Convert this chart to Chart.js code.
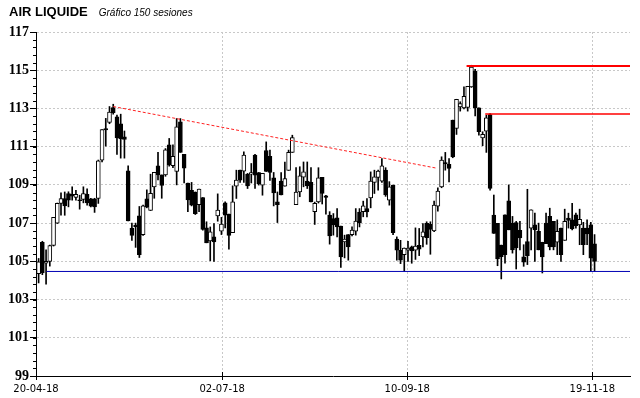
<!DOCTYPE html>
<html>
<head>
<meta charset="utf-8">
<script src="https://cdn.jsdelivr.net/npm/chart.js@4.4.1/dist/chart.umd.min.js"></script>
<style>
  html, body { margin: 0; padding: 0; background: #fff; }
  #wrap { position: relative; width: 640px; height: 398px; }
  #title { position: absolute; left: 9px; top: 3px; font-family: "Liberation Sans", Arial, sans-serif; white-space: nowrap; line-height: 15px; color: #000; }
  #title b { font-size: 13px; }
  #title i { font-size: 10px; margin-left: 11px; }
</style>
</head>
<body>
<div id="wrap">
  <canvas id="chart" width="640" height="398"></canvas>
  <div id="title"><b>AIR LIQUIDE</b><i>Gráfico 150 sesiones</i></div>
</div>
<script>
// 150 sesiones, valores
const opens = [
  104.36, 106.0, 104.9, 105.0, 105.83, 107.0, 108.03, 108.28, 108.55, 108.5,
  108.34, 108.22, 108.24, 108.5, 108.27, 108.27, 108.29, 110.29, 111.95, 112.27,
  113.05, 112.56, 112.2, 111.52, 109.73, 106.74, 106.9, 107.38, 106.4, 108.27,
  107.66, 108.9, 110.0, 109.52, 109.52, 111.09, 110.0, 109.7, 112.3, 110.6,
  109.09, 108.72, 108.63, 107.97, 108.34, 106.75, 106.07, 106.28, 107.38, 106.58,
  108.06, 107.47, 106.5, 108.93, 109.77, 109.72, 109.56, 109.56, 110.56, 109.65,
  108.99, 110.8, 110.5, 109.37, 108.11, 109.2, 108.93, 109.76, 110.7, 107.97,
  108.63, 109.4, 109.2, 109.13, 107.6, 108.11, 109.39, 108.43, 107.42, 107.24,
  107.27, 106.84, 106.02, 106.4, 106.4, 106.58, 107.58, 107.6, 107.76, 108.32,
  109.13, 109.39, 109.2, 109.77, 108.2, 108.99, 106.16, 105.58, 105.35, 105.58,
  105.76, 105.58, 105.84, 106.28, 106.99, 106.93, 106.59, 107.89, 108.9, 110.17,
  110.07, 112.39, 111.95, 113.08, 113.03, 113.05, 114.13, 114.95, 113.03, 111.46,
  111.81, 112.68, 107.42, 106.99, 105.85, 107.43, 108.17, 107.0, 107.03, 106.62,
  105.23, 106.04, 106.74, 106.91, 106.57, 106.0, 107.0, 107.35, 107.09, 106.0,
  106.74, 106.1, 107.26, 107.17, 107.43, 106.91, 106.74, 106.74, 106.91, 105.92
];
const highs = [
  105.15, 106.05, 105.6, 105.85, 107.3, 108.05, 108.58, 108.63, 108.64, 108.9,
  108.72, 108.46, 108.9, 108.8, 108.3, 108.3, 110.3, 111.9, 112.48, 113.1,
  113.22, 112.65, 112.7, 111.82, 110.0, 107.0, 107.0, 107.87, 107.95, 108.74,
  109.56, 109.66, 110.7, 109.52, 110.9, 111.43, 111.1, 112.47, 112.47, 110.6,
  109.09, 109.13, 108.63, 108.78, 108.34, 107.07, 106.8, 106.98, 108.53, 107.3,
  108.11, 107.47, 108.95, 109.77, 109.77, 110.73, 109.6, 110.12, 110.6, 109.65,
  109.6, 111.25, 110.82, 109.65, 108.63, 109.65, 110.2, 110.82, 111.6, 109.9,
  109.95, 110.2, 110.2, 109.9, 108.1, 109.9, 109.39, 108.45, 107.6, 107.5,
  107.76, 106.84, 106.37, 106.4, 106.8, 107.76, 107.76, 108.15, 108.29, 109.68,
  109.77, 109.77, 110.38, 109.9, 109.17, 108.99, 106.28, 106.1, 105.7, 106.05,
  105.8, 106.75, 106.72, 106.98, 107.07, 107.07, 108.15, 108.85, 110.47, 110.7,
  110.38, 112.39, 113.48, 113.35, 114.13, 114.16, 115.26, 115.05, 113.03, 111.78,
  112.65, 112.73, 108.47, 106.99, 105.85, 107.43, 109.0, 107.35, 107.09, 107.09,
  105.87, 108.77, 107.7, 107.52, 107.0, 106.0, 107.52, 107.78, 107.09, 107.17,
  106.74, 107.73, 107.52, 108.04, 107.52, 107.73, 107.04, 107.17, 107.04, 106.4
];
const lows = [
  103.87, 104.3, 103.8, 104.75, 105.8, 106.98, 107.42, 107.41, 107.85, 108.2,
  108.2, 107.73, 108.06, 107.94, 107.85, 107.56, 108.03, 110.2, 111.03, 112.2,
  112.7, 110.6, 110.4, 110.4, 107.12, 106.1, 105.73, 105.2, 106.35, 107.8,
  107.66, 108.3, 109.26, 108.3, 109.45, 109.98, 109.9, 109.0, 110.7, 109.1,
  107.6, 107.9, 107.45, 107.6, 106.63, 105.97, 105.03, 105.0, 107.1, 106.4,
  106.75, 105.63, 106.5, 108.29, 109.13, 109.13, 108.81, 109.1, 108.81, 108.99,
  108.46, 109.7, 109.23, 107.9, 107.03, 108.47, 108.93, 109.76, 110.7, 107.97,
  108.38, 108.9, 108.81, 108.11, 106.93, 108.05, 108.0, 107.47, 105.9, 106.37,
  106.28, 104.68, 105.18, 105.06, 106.33, 106.37, 106.8, 107.33, 107.33, 107.8,
  108.55, 108.72, 109.13, 108.4, 107.94, 106.4, 105.06, 104.88, 104.48, 105.0,
  104.9, 105.1, 105.3, 105.76, 105.89, 105.37, 106.55, 107.63, 108.85, 109.77,
  109.16, 110.42, 111.64, 112.86, 112.98, 112.86, 114.1, 112.61, 111.6, 111.05,
  110.7, 108.73, 106.46, 104.77, 104.08, 104.91, 106.65, 105.43, 104.6, 105.6,
  104.74, 104.83, 105.6, 105.0, 105.6, 104.39, 105.92, 105.6, 105.6, 105.35,
  105.0, 106.1, 106.74, 106.65, 106.74, 105.87, 105.35, 105.87, 104.48, 104.48
];
const closes = [
  104.97, 104.4, 105.0, 105.83, 107.3, 108.03, 108.29, 107.9, 108.2, 108.41,
  108.5, 108.17, 108.55, 108.06, 107.89, 107.85, 110.26, 111.9, 111.87, 112.81,
  112.78, 111.46, 111.4, 111.38, 107.12, 106.36, 106.82, 105.35, 107.9, 107.83,
  108.56, 109.66, 109.52, 108.97, 110.83, 110.04, 110.5, 112.04, 110.7, 109.87,
  108.22, 107.94, 107.5, 108.78, 106.67, 105.97, 106.54, 106.02, 107.68, 106.95,
  107.42, 106.35, 108.11, 109.25, 109.25, 110.56, 108.95, 109.65, 109.51, 109.07,
  109.6, 109.7, 109.65, 108.58, 107.97, 108.47, 109.33, 110.7, 111.47, 108.63,
  109.47, 109.68, 108.95, 108.11, 108.03, 109.37, 108.55, 108.34, 106.33, 106.9,
  106.8, 105.23, 106.16, 105.76, 106.63, 107.1, 107.02, 107.9, 107.58, 109.2,
  109.42, 109.72, 110.0, 108.47, 108.9, 106.5, 105.58, 105.06, 105.7, 105.7,
  105.55, 105.8, 105.63, 106.54, 106.24, 106.67, 107.94, 108.67, 110.3, 110.1,
  109.86, 110.47, 113.48, 113.26, 113.64, 114.16, 115.17, 113.03, 111.78, 111.64,
  112.51, 108.82, 106.46, 105.12, 105.24, 105.35, 106.65, 105.6, 105.7, 106.22,
  104.95, 105.3, 107.7, 106.65, 105.6, 105.23, 105.92, 105.75, 105.75, 106.57,
  105.35, 107.09, 107.14, 106.69, 106.86, 107.2, 105.87, 106.44, 105.17, 105.0
];

const xTickLabels = ["20-04-18", "02-07-18", "10-09-18", "19-11-18"];
const xTickSessions = [-0.7, 49.2, 98.8, 148.4];
const yTickValues = [99, 101, 103, 105, 107, 109, 111, 113, 115, 117];

// lineas dibujadas sobre el grafico
const trendLine = [{ x: 20, y: 113.1 }, { x: 106.8, y: 109.87 }];
const supportLevel = 104.47, supportFrom = 2.1;
const resistTop = 115.22, resistTopFrom = 114.7;
const resistMid = 112.71, resistMidFrom = 119.7;

const X_MIN = -0.7, X_MAX = 158.5;
const Y_MIN = 99, Y_MAX = 117;

const sessions = opens.map((_, i) => i);
const isUp = i => closes[i] >= opens[i];

// ticks menores del eje Y y marcas de fecha sobre el eje X
const axisMarks = {
  id: "axisMarks",
  afterDraw(chart) {
    const { ctx, chartArea } = chart;
    const x = chart.scales.x, y = chart.scales.y;
    ctx.save();
    ctx.strokeStyle = "#000";
    ctx.lineWidth = 1;
    ctx.beginPath();
    for (let k = 0; k <= 45; k++) {
      const py = Math.round(y.getPixelForValue(Y_MIN + k * 0.4)) + 0.5;
      ctx.moveTo(chartArea.left - 3, py);
      ctx.lineTo(chartArea.left, py);
    }
    xTickSessions.slice(1).forEach(s => {
      const px = Math.round(x.getPixelForValue(s)) + 0.5;
      ctx.moveTo(px, chartArea.bottom - 4);
      ctx.lineTo(px, chartArea.bottom);
    });
    ctx.stroke();
    ctx.restore();
  }
};

new Chart(document.getElementById("chart"), {
  type: "bar",
  data: {
    datasets: [
      {
        label: "mechas",
        data: sessions.map(i => ({ x: i, y: [lows[i], highs[i]] })),
        backgroundColor: "#000",
        borderWidth: 0,
        barThickness: 1,
        grouped: false,
        order: 3
      },
      {
        label: "cuerpos",
        data: sessions.map(i => ({ x: i, y: [Math.min(opens[i], closes[i]), Math.max(opens[i], closes[i])] })),
        backgroundColor: ctx => (isUp(ctx.dataIndex) ? "#fff" : "#000"),
        borderColor: "#000",
        borderWidth: 1,
        borderSkipped: false,
        barThickness: 4,
        grouped: false,
        order: 2
      },
      {
        type: "line",
        data: trendLine,
        borderColor: "#ff2020",
        borderWidth: 1,
        borderDash: [3, 2],
        pointRadius: 0,
        fill: false,
        order: 1
      },
      {
        type: "line",
        data: [{ x: supportFrom, y: supportLevel }, { x: X_MAX, y: supportLevel }],
        borderColor: "#0000b4",
        borderWidth: 1,
        pointRadius: 0,
        fill: false,
        order: 1
      },
      {
        type: "line",
        data: [{ x: resistTopFrom, y: resistTop }, { x: X_MAX, y: resistTop }],
        borderColor: "#ff0000",
        borderWidth: 2,
        pointRadius: 0,
        fill: false,
        order: 1
      },
      {
        type: "line",
        data: [{ x: resistMidFrom, y: resistMid }, { x: X_MAX, y: resistMid }],
        borderColor: "#ff0000",
        borderWidth: 1.5,
        pointRadius: 0,
        fill: false,
        order: 1
      }
    ]
  },
  options: {
    responsive: false,
    animation: false,
    devicePixelRatio: 1,
    layout: { padding: { top: 32, right: 10, left: 0, bottom: 0 } },
    plugins: { legend: { display: false }, tooltip: { enabled: false } },
    scales: {
      x: {
        type: "linear",
        min: X_MIN,
        max: X_MAX,
        offset: false,
        afterBuildTicks: s => { s.ticks = xTickSessions.map(v => ({ value: v })); },
        afterFit: s => { s.height = 22; },
        ticks: {
          autoSkip: false,
          maxRotation: 0,
          padding: 3,
          color: "#000",
          font: { family: '"DejaVu Sans", Tahoma, sans-serif', size: 10 },
          callback: (v, i) => xTickLabels[i]
        },
        grid: {
          offset: false,
          color: ctx => (ctx.index === 0 ? "rgba(0,0,0,0)" : "#c8c8c8"),
          tickColor: "#000",
          tickLength: 4
        },
        border: { display: true, color: "#000", width: 1, dash: [2, 2] }
      },
      y: {
        min: Y_MIN,
        max: Y_MAX,
        afterBuildTicks: s => { s.ticks = yTickValues.map(v => ({ value: v })); },
        afterFit: s => { s.width = 36; },
        ticks: {
          padding: 1,
          color: "#000",
          font: { family: '"Liberation Serif", "Times New Roman", serif', size: 14, weight: "bold" },
          callback: v => String(v)
        },
        grid: {
          color: ctx => (ctx.tick && ctx.tick.value === Y_MIN ? "rgba(0,0,0,0)" : "#c8c8c8"),
          tickColor: "#000",
          tickLength: 6
        },
        border: { display: true, color: "#000", width: 1, dash: [2, 2] }
      }
    }
  },
  plugins: [axisMarks]
});
</script>
</body>
</html>
